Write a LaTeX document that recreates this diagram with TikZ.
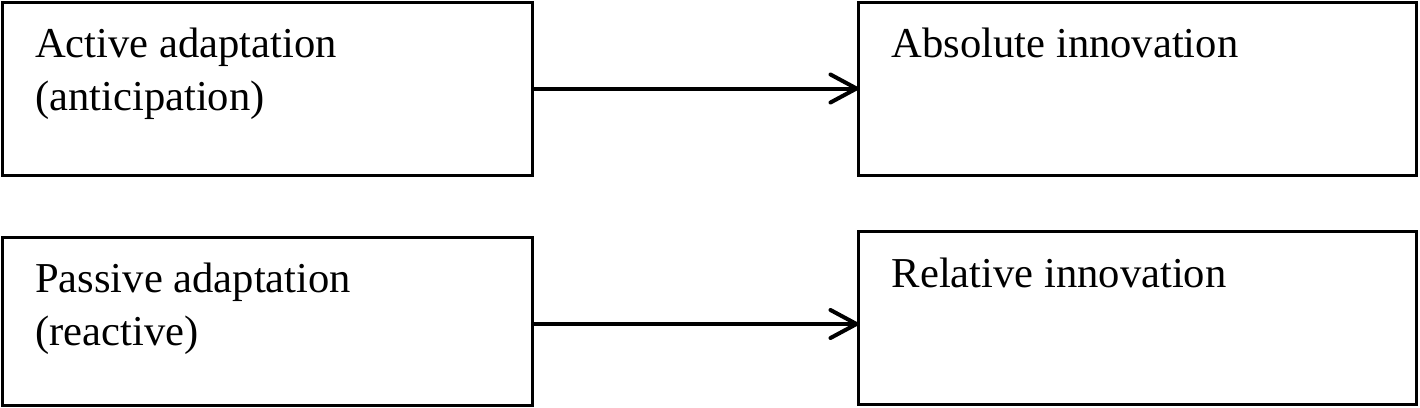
\documentclass[tikz,border=0pt]{standalone}
\usepackage{fontspec}
\setmainfont{Liberation Serif}
\usetikzlibrary{arrows.meta, positioning}

\begin{document}
\begin{tikzpicture}[x=1pt, y=1pt,
  box/.style={rectangle, draw=black, line width=3pt, inner sep=0pt, outer sep=0pt, anchor=north west},
  lbl/.style={inner sep=0pt, anchor=base west, align=left, font=\fontsize{42.6}{53}\selectfont},
  flow/.style={line width=4pt, -{Straight Barb[length=26pt, width=28pt, line cap=round, line join=round]}}]
  \useasboundingbox (0,0) rectangle (1420,-407);
  % boxes
  \node[box, minimum width=530pt, minimum height=173pt] (AA) at (2,-2) {};
  \node[box, minimum width=558pt, minimum height=173pt] (AI) at (858.5,-2) {};
  \node[box, minimum width=530pt, minimum height=168pt] (PA) at (2,-237) {};
  \node[box, minimum width=558pt, minimum height=173.5pt] (RI) at (858.5,-231) {};
  % texts (base = last line)
  \node[lbl] (AAtext) at ([shift={(33,-108)}]AA.north west) {Active adaptation\\(anticipation)};
  \node[lbl] (AItext) at ([shift={(33,-55)}]AI.north west) {Absolute innovation};
  \node[lbl] (PAtext) at ([shift={(33,-108)}]PA.north west) {Passive adaptation\\(reactive)};
  \node[lbl] (RItext) at ([shift={(33,-56)}]RI.north west) {Relative innovation};
  % arrows
  \draw[flow] (AA.east) -- (AI.west);
  \draw[flow] ([yshift=-3pt]PA.east) -- ([yshift=-3pt]PA.east -| RI.west);
\end{tikzpicture}
\end{document}
